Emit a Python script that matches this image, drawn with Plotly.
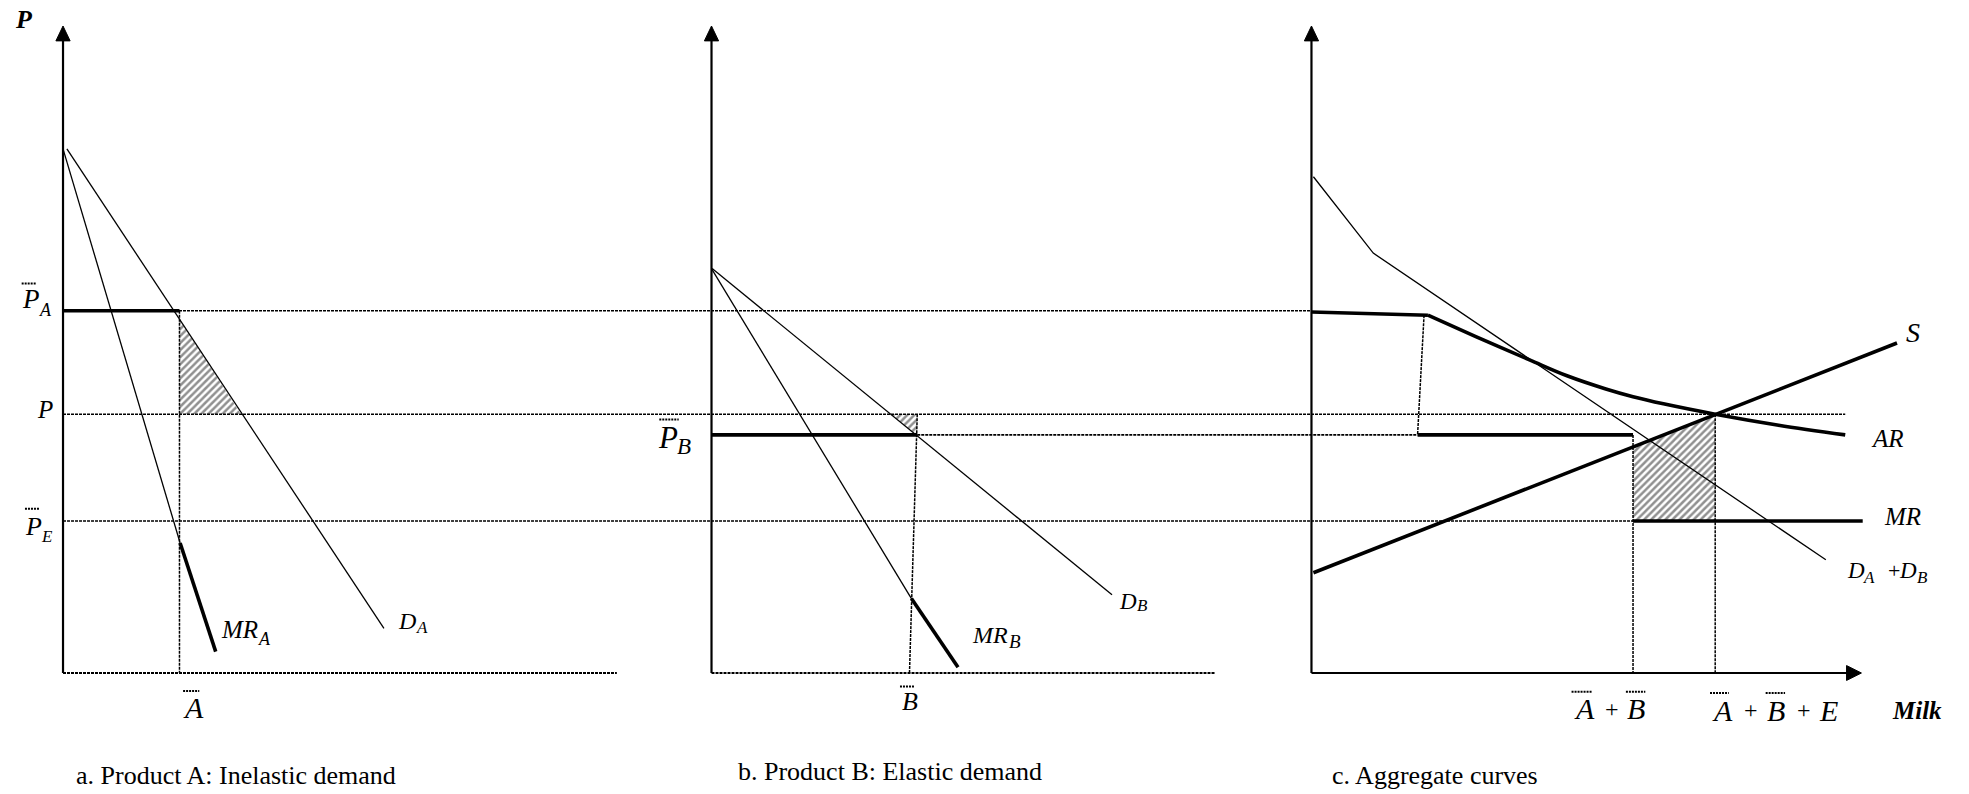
import plotly.graph_objects as go

# ---- price levels shared by the three panels ----
P_TOP = 100.0     # top of every price axis
PA_BAR = 56.0     # support price of product A
P_MID = 40.0      # market price P
PB_BAR = 36.8     # support price of product B
PE_BAR = 23.5     # export price

# ---- panel a: product A, inelastic demand ----
DA_Q = [0.6, 49.6]
DA_P = [81.0, 6.9]
MRA_Q = [0.0, 18.1, 23.6]
MRA_P = [81.0, 20.1, 3.3]
A_BAR = 18.0
HATCH_A_Q = [18.0, 18.0, 27.5]
HATCH_A_P = [54.7, 40.0, 40.0]
QMAX_A = 85.6

# ---- panel b: product B, elastic demand ----
DB_Q = [0.1, 61.9]
DB_P = [62.5, 12.1]
MRB_Q = [0.0, 30.9, 38.1]
MRB_P = [62.5, 11.5, 0.9]
B_BAR_Q = [31.8, 30.6]       # top, bottom of the B-bar guide
HATCH_B_Q = [27.7, 31.8, 31.8]
HATCH_B_P = [40.0, 40.0, 36.65]
QMAX_B = 77.8

# ---- panel c: aggregate curves ----
DSUM_Q = [0.3, 9.55, 79.5]
DSUM_P = [76.7, 64.9, 17.5]
AR_FLAT_Q = [0.0, 18.0]
AR_FLAT_P = [55.8, 55.3]
AR_Q = [18.0, 25.4, 33.7, 39.6, 45.5, 49.7, 54.4, 62.4, 72.2, 82.5]
AR_P = [55.3, 52.0, 48.4, 45.9, 43.9, 42.7, 41.6, 40.0, 38.3, 36.8]
S_Q = [0.3, 90.5]
S_P = [15.5, 51.0]
A_GUIDE_Q = [17.4, 16.4]
AB_SUM = 49.7
ABE_SUM = 62.4
MR_END = 85.2
HATCH_C_Q = [49.7, 62.4, 62.4, 49.7]
HATCH_C_P = [35.0, 40.0, PE_BAR, PE_BAR]
QMAX_C = 85.0

# ---- layout helpers ----
U = 6.47                                   # pixels per unit
ORIGIN = {"a": 9.74, "b": 109.97, "c": 202.7}
FONT = "Liberation Serif"
DOT = "3px,1px"

fig = go.Figure()


def gx(panel, qs):
    return [ORIGIN[panel] + q for q in qs]


def line(panel, q, p, width=1.3, dash="solid", shape="linear"):
    fig.add_trace(go.Scatter(
        x=gx(panel, q), y=p, mode="lines",
        line=dict(color="black", width=width, dash=dash, shape=shape),
        hoverinfo="skip"))


def span(p0, q0, p1, q1, level, width=1.6):
    fig.add_trace(go.Scatter(
        x=[ORIGIN[p0] + q0, ORIGIN[p1] + q1], y=[level, level], mode="lines",
        line=dict(color="black", width=width, dash=DOT), hoverinfo="skip"))


def hatch(panel, q, p):
    fig.add_trace(go.Scatter(
        x=gx(panel, q), y=p, mode="lines", fill="toself",
        fillcolor="white", line=dict(width=0),
        fillpattern=dict(shape="/", fgcolor="#222222", bgcolor="white",
                         size=5, solidity=0.5),
        hoverinfo="skip"))


def arrow(xs, ys):
    fig.add_trace(go.Scatter(
        x=xs, y=ys, mode="lines", fill="toself", fillcolor="black",
        line=dict(color="black", width=1), hoverinfo="skip"))


def txt(x, y, text, size=25, style="italic", weight="normal"):
    fig.add_annotation(x=x, y=y, text=text, showarrow=False,
                       xanchor="left", yanchor="middle",
                       font=dict(family=FONT, size=size, color="black",
                                 style=style, weight=weight))


def overbar(x0, x1, p):
    fig.add_shape(type="line", x0=x0, x1=x1, y0=p, y1=p,
                  line=dict(color="black", width=2, dash="2px,1px"))


# hatched areas first so lines sit on top
hatch("a", HATCH_A_Q, HATCH_A_P)
hatch("b", HATCH_B_Q, HATCH_B_P)
hatch("c", HATCH_C_Q, HATCH_C_P)

# cross-panel dotted price lines
span("a", 0, "c", 0, PA_BAR)
span("a", 0, "c", 82.5, P_MID)
span("b", B_BAR_Q[0], "c", A_GUIDE_Q[1], PB_BAR)
span("a", 0, "c", AB_SUM, PE_BAR)

# axes: a and b have dotted quantity axes, c a solid one with arrow
for pnl in ("a", "b", "c"):
    line(pnl, [0, 0], [0, P_TOP - 2.2], width=2.2)
    o = ORIGIN[pnl]
    arrow([o - 1.1, o + 1.1, o, o - 1.1],
          [P_TOP - 2.3, P_TOP - 2.3, P_TOP, P_TOP - 2.3])
line("a", [0, QMAX_A], [0, 0], width=1.8, dash=DOT)
line("b", [0, QMAX_B], [0, 0], width=1.8, dash=DOT)
line("c", [0, QMAX_C - 2.0], [0, 0], width=2.2)
oc = ORIGIN["c"]
arrow([oc + QMAX_C - 2.3, oc + QMAX_C - 2.3, oc + QMAX_C, oc + QMAX_C - 2.3],
      [-1.15, 1.15, 0, -1.15])

# panel a
line("a", [A_BAR, A_BAR], [PA_BAR, 0], width=1.5, dash=DOT)
line("a", DA_Q, DA_P)
line("a", MRA_Q[:2], MRA_P[:2])
line("a", MRA_Q[1:], MRA_P[1:], width=3.6)
line("a", [0, A_BAR], [PA_BAR, PA_BAR], width=3.6)

# panel b
line("b", B_BAR_Q, [P_MID, 0], width=1.5, dash=DOT)
line("b", DB_Q, DB_P)
line("b", MRB_Q[:2], MRB_P[:2])
line("b", MRB_Q[1:], MRB_P[1:], width=3.6)
line("b", [0, B_BAR_Q[0]], [PB_BAR, PB_BAR], width=3.6)

# panel c
line("c", A_GUIDE_Q, [AR_FLAT_P[1], PB_BAR], width=1.5, dash=DOT)
line("c", [AB_SUM, AB_SUM], [PB_BAR, 0], width=1.5, dash=DOT)
line("c", [ABE_SUM, ABE_SUM], [P_MID, 0], width=1.5, dash=DOT)
line("c", DSUM_Q, DSUM_P)
line("c", AR_FLAT_Q, AR_FLAT_P, width=3.6)
line("c", AR_Q, AR_P, width=3.6, shape="spline")
line("c", S_Q, S_P, width=3.6)
line("c", [A_GUIDE_Q[1], AB_SUM], [PB_BAR, PB_BAR], width=3.6)
line("c", [AB_SUM, MR_END], [PE_BAR, PE_BAR], width=3.6)

# labels, panel a (letters and their subscripts are set separately)
txt(1.95, 101.08, "P", size=26, weight="bold")
txt(3.09, 57.81, "P", size=27)
txt(5.75, 56.18, "A", size=18)
txt(5.41, 40.65, "P", size=25)
txt(3.55, 22.72, "P", size=26)
txt(6.06, 21.17, "E", size=17)
txt(27.98, -5.33, "A", size=30)
txt(33.85, 6.65, "MR", size=25)
txt(39.49, 5.26, "A", size=18)
txt(61.14, 8.11, "D", size=24)
txt(63.95, 7.03, "A", size=17)
txt(11.38, -15.9, "a. Product A: Inelastic demand", size=26, style="normal")

# labels, panel b
txt(101.39, 36.40, "P", size=31)
txt(104.40, 35.01, "B", size=23)
txt(139.10, -4.40, "B", size=26)
txt(149.92, 5.80, "MR", size=24)
txt(155.59, 4.84, "B", size=19)
txt(172.60, 11.05, "D", size=23)
txt(175.43, 10.36, "B", size=17)
txt(113.8, -15.2, "b. Product B: Elastic demand", size=26, style="normal")

# labels, panel c
txt(294.28, 52.63, "S", size=28)
txt(288.84, 36.24, "AR", size=25)
txt(290.88, 24.19, "MR", size=25)
txt(285.10, 15.92, "D", size=23)
txt(287.71, 14.76, "A", size=17)
txt(291.50, 15.92, "+", size=22, style="normal")
txt(293.20, 15.92, "D", size=23)
txt(295.98, 14.76, "B", size=17)
txt(242.92, -5.49, "A", size=30)
txt(247.76, -5.49, "+", size=24, style="normal")
txt(251.16, -5.49, "B", size=30)
txt(264.30, -5.72, "A", size=30)
txt(269.20, -5.72, "+", size=24, style="normal")
txt(272.80, -5.72, "B", size=30)
txt(277.43, -5.72, "+", size=24, style="normal")
txt(280.79, -5.72, "E", size=30)
txt(292.12, -5.72, "Milk", size=25, weight="bold")
txt(205.6, -15.9, "c. Aggregate curves", size=26, style="normal")

# overbars on the barred symbols
overbar(3.35, 5.67, 60.2)
overbar(3.86, 6.18, 25.4)
overbar(101.9, 104.9, 39.2)
overbar(28.3, 30.8, -2.8)
overbar(139.1, 141.4, -2.1)
overbar(242.9, 246.0, -2.9)
overbar(251.3, 254.3, -2.9)
overbar(264.3, 267.2, -3.1)
overbar(272.9, 275.9, -3.1)

fig.update_layout(
    width=1969, height=794,
    margin=dict(l=0, r=0, t=0, b=0),
    paper_bgcolor="white", plot_bgcolor="white",
    showlegend=False, hovermode=False,
    xaxis=dict(visible=False, range=[0, 1969 / U], fixedrange=True),
    yaxis=dict(visible=False, range=[-121 / U, 673 / U], fixedrange=True),
)

fig.write_html("out.html", config={"displayModeBar": False},
               post_script="document.body.style.margin='0';")
